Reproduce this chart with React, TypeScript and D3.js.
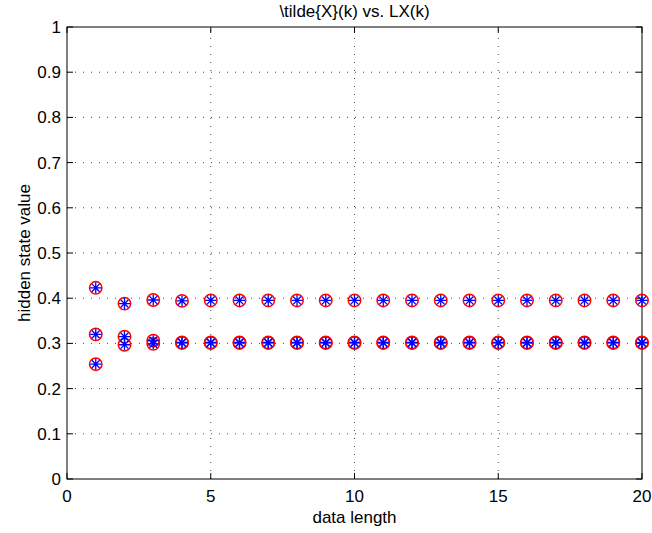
import React from 'react';
import * as d3 from 'd3';

// data length (x) and the three hidden state estimates
const dataLength = [1, 2, 3, 4, 5, 6, 7, 8, 9, 10, 11, 12, 13, 14, 15, 16, 17, 18, 19, 20];
const stateA = [0.423, 0.388, 0.396, 0.394, 0.395, 0.395, 0.395, 0.395, 0.395, 0.395, 0.395, 0.395, 0.395, 0.395, 0.395, 0.395, 0.395, 0.395, 0.395, 0.395];
const stateB = [0.320, 0.315, 0.306, 0.302, 0.302, 0.302, 0.302, 0.302, 0.302, 0.302, 0.302, 0.302, 0.302, 0.302, 0.302, 0.302, 0.302, 0.302, 0.302, 0.302];
const stateC = [0.254, 0.297, 0.299, 0.301, 0.301, 0.301, 0.301, 0.301, 0.301, 0.301, 0.301, 0.301, 0.301, 0.301, 0.301, 0.301, 0.301, 0.301, 0.301, 0.301];

const xTicks = [0, 5, 10, 15, 20];
const yTicks = [0, 0.1, 0.2, 0.3, 0.4, 0.5, 0.6, 0.7, 0.8, 0.9, 1];
const yTickLabels = ['0', '0.1', '0.2', '0.3', '0.4', '0.5', '0.6', '0.7', '0.8', '0.9', '1'];

const W = 652;
const H = 533;
const margin = { top: 27, right: 10, bottom: 54, left: 67 };
const font = '"Liberation Sans", Arial, Helvetica, sans-serif';

export default function App() {
  const x = d3.scaleLinear().domain([0, 20]).range([margin.left, W - margin.right]);
  const y = d3.scaleLinear().domain([0, 1]).range([H - margin.bottom, margin.top]);
  const [x0, x1] = x.range();
  const [y0, y1] = y.range();
  const tick = 6;

  const series = [stateA, stateB, stateC];
  const pts = series.flatMap((s) => s.map((v, i) => ({ cx: x(dataLength[i]), cy: y(v) })));

  // asterisk = plus + cross
  const r = 5.5;
  const d = r * Math.SQRT1_2;
  const star = (cx: number, cy: number) =>
    `M${cx - r},${cy}L${cx + r},${cy}M${cx},${cy - r}L${cx},${cy + r}` +
    `M${cx - d},${cy - d}L${cx + d},${cy + d}M${cx - d},${cy + d}L${cx + d},${cy - d}`;

  return (
    <svg width={W} height={H} style={{ position: 'absolute', left: 0, top: 0, background: '#fff' }}
      fontFamily={font}>
      <rect x={0} y={0} width={W} height={H} fill="#fff" />
      {/* grid */}
      <g stroke="#444" strokeWidth={1} strokeDasharray="1,7">
        {xTicks.filter((t) => t > 0 && t < 20).map((t) => (
          <line key={'gx' + t} x1={x(t)} x2={x(t)} y1={y0} y2={y1} />
        ))}
        {yTicks.filter((t) => t > 0 && t < 1).map((t) => (
          <line key={'gy' + t} x1={x0} x2={x1} y1={y(t)} y2={y(t)} />
        ))}
      </g>
      {/* box + ticks */}
      <g stroke="#000" strokeWidth={1} fill="none">
        <rect x={x0} y={y1} width={x1 - x0} height={y0 - y1} />
        {xTicks.map((t) => (
          <g key={'tx' + t}>
            <line x1={x(t)} x2={x(t)} y1={y0} y2={y0 - tick} />
            <line x1={x(t)} x2={x(t)} y1={y1} y2={y1 + tick} />
          </g>
        ))}
        {yTicks.map((t) => (
          <g key={'ty' + t}>
            <line x1={x0} x2={x0 + tick} y1={y(t)} y2={y(t)} />
            <line x1={x1} x2={x1 - tick} y1={y(t)} y2={y(t)} />
          </g>
        ))}
      </g>
      {/* markers */}
      <g fill="none" stroke="#ff0000" strokeWidth={1.5}>
        {pts.map((p, i) => (
          <circle key={'c' + i} cx={p.cx} cy={p.cy} r={6.2} />
        ))}
      </g>
      <g fill="none" stroke="#0000ff" strokeWidth={1.3}>
        {pts.map((p, i) => (
          <path key={'s' + i} d={star(p.cx, p.cy)} />
        ))}
      </g>
      {/* tick labels */}
      <g fontSize={17} fill="#000">
        {xTicks.map((t) => (
          <text key={'lx' + t} x={x(t)} y={502} textAnchor="middle">{t}</text>
        ))}
        {yTicks.map((t, i) => (
          <text key={'ly' + t} x={x0 - 6} y={y(t) + 6} textAnchor="end">{yTickLabels[i]}</text>
        ))}
      </g>
      <text x={(x0 + x1) / 2} y={523} textAnchor="middle" fontSize={17}>data length</text>
      <text transform={`translate(30,${(y0 + y1) / 2}) rotate(-90)`} textAnchor="middle" fontSize={17}>
        hidden state value
      </text>
      <text x={(x0 + x1) / 2} y={17} textAnchor="middle" fontSize={17}>{'\\tilde{X}(k) vs. LX(k)'}</text>
    </svg>
  );
}
